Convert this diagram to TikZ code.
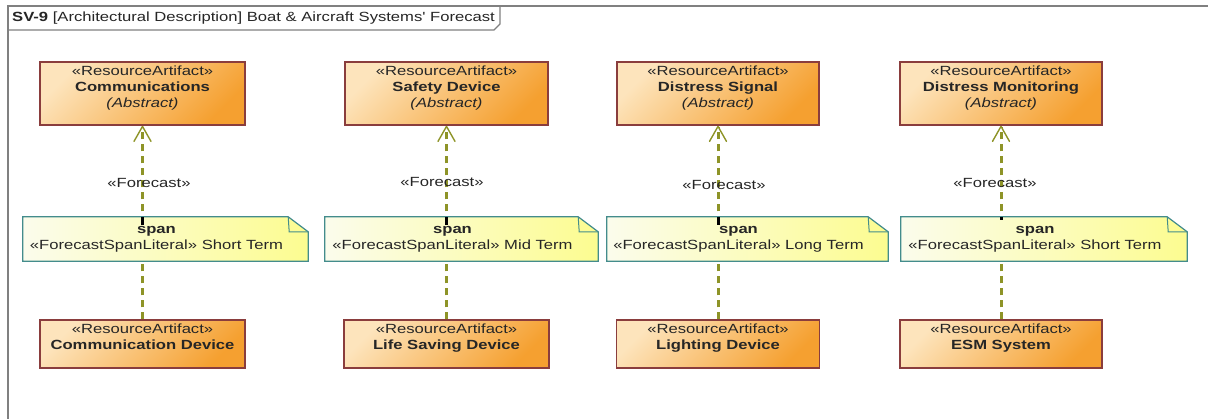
\documentclass[tikz,border=0pt]{standalone}
\usepackage{fontspec}
\setmainfont{Liberation Sans}[FakeStretch=1.25, Ligatures=TeXOff]
\usetikzlibrary{arrows.meta}
\definecolor{boxlight}{HTML}{FDE4BC}
\definecolor{boxdark}{HTML}{F5A030}
\definecolor{boxborder}{HTML}{8A3D3D}
\definecolor{notelight}{HTML}{FBFCEC}
\definecolor{notedark}{HTML}{FCFC90}
\definecolor{noteborder}{HTML}{438C8C}
\definecolor{depcol}{HTML}{8E9428}
\definecolor{framegray}{HTML}{808080}
\definecolor{txt}{HTML}{262626}
\pgfdeclarelayer{bg}
\pgfdeclarelayer{canvas}
\pgfsetlayers{canvas,bg,main}
\begin{document}
\begin{tikzpicture}[x=1pt,y=-1pt,
  font=\fontsize{13.3}{16}\selectfont, text=txt,
  rabox/.style={draw=boxborder, line width=1.4pt, top color=boxlight, bottom color=boxdark, shading angle=45, align=center, inner sep=0pt},
  topbox/.style={rabox, minimum height=63pt, text depth=13pt},
  botbox/.style={rabox, minimum height=48pt, text depth=14pt},
  notebox/.style={align=center, inner sep=0pt, minimum height=44pt},
  noteshape/.style={left color=notelight, right color=notedark, draw=noteborder, line width=1.2pt},
  notefold/.style={draw=noteborder, line width=1pt},
  dep/.style={draw=depcol, line width=3pt, dash pattern=on 7pt off 5pt, -{Straight Barb[length=15pt, width=17pt, line width=1.4pt, round]}},
  tick/.style={draw=black, line width=3pt},
  lbl/.style={inner sep=0pt},
  frameline/.style={draw=framegray, line width=2pt},
  tabline/.style={draw=framegray, line width=1.3pt}]
\useasboundingbox (0,0) rectangle (1208,419);
\begin{pgfonlayer}{canvas}
\fill[white] (0,0) rectangle (1208,419);
\end{pgfonlayer}
% frame
\draw[frameline] (1212,6) -- (8,6) -- (8,425);
\draw[tabline] (8,30) -- (494,30) -- (500,24) -- (500,6);
\node[anchor=west, inner sep=0pt] (title) at (12,18) {\textbf{SV-9} [Architectural Description] Boat \& Aircraft Systems' Forecast};
% top boxes
\node[topbox, minimum width=205pt] (t1) at (142.5,93.5) {«ResourceArtifact»\\\textbf{Communications}\\\textit{(Abstract)}};
\node[topbox, minimum width=203pt] (t2) at (446.5,93.5) {«ResourceArtifact»\\\textbf{Safety Device}\\\textit{(Abstract)}};
\node[topbox, minimum width=202pt] (t3) at (718,93.5) {«ResourceArtifact»\\\textbf{Distress Signal}\\\textit{(Abstract)}};
\node[topbox, minimum width=202pt] (t4) at (1001,93.5) {«ResourceArtifact»\\\textbf{Distress Monitoring}\\\textit{(Abstract)}};
% bottom boxes
\node[botbox, minimum width=205pt] (b1) at (142.5,344) {«ResourceArtifact»\\\textbf{Communication Device}};
\node[botbox, minimum width=205pt] (b2) at (446.5,344) {«ResourceArtifact»\\\textbf{Life Saving Device}};
\node[botbox, minimum width=203pt] (b3) at (718,344) {«ResourceArtifact»\\\textbf{Lighting Device}};
\node[botbox, minimum width=202pt] (b4) at (1001,344) {«ResourceArtifact»\\\textbf{ESM System}};
% notes (text)
\node[notebox, minimum width=267pt] (n1) at (156.5,239) {\textbf{span}\\«ForecastSpanLiteral» Short Term};
\node[notebox, minimum width=255pt] (n2) at (452.5,239) {\textbf{span}\\«ForecastSpanLiteral» Mid Term};
\node[notebox, minimum width=263pt] (n3) at (738.5,239) {\textbf{span}\\«ForecastSpanLiteral» Long Term};
\node[notebox, minimum width=268pt] (n4) at (1035,239) {\textbf{span}\\«ForecastSpanLiteral» Short Term};
\begin{pgfonlayer}{bg}
  \foreach \i in {1,2,3,4}{
    \draw[dep] (b\i.north) -- (t\i.south);
  }
  \foreach \i in {1,2,3,4}{
    \shade[noteshape] (n\i.north west) -- ([xshift=-2pt]n\i.north east) -- ([xshift=18pt,yshift=-15pt]n\i.north east) -- ([xshift=18pt]n\i.south east) -- (n\i.south west) -- cycle;
    \draw[notefold] ([xshift=-2pt]n\i.north east) -- ([xshift=-1pt,yshift=-15pt]n\i.north east) -- ([xshift=18pt,yshift=-15pt]n\i.north east);
  }
\end{pgfonlayer}
% attachment ticks
\draw[tick] (t1.south |- n1.north) -- ++(0,8);
\draw[tick] (t2.south |- n2.north) -- ++(0,8);
\draw[tick] (t3.south |- n3.north) -- ++(0,8);
\draw[tick] (t4.south |- n4.north) -- ++(0,3);
% labels
\node[lbl] (f1) at (149,183) {«Forecast»};
\node[lbl] (f2) at (442,182) {«Forecast»};
\node[lbl] (f3) at (724,185) {«Forecast»};
\node[lbl] (f4) at (995,183) {«Forecast»};
\end{tikzpicture}
\end{document}
